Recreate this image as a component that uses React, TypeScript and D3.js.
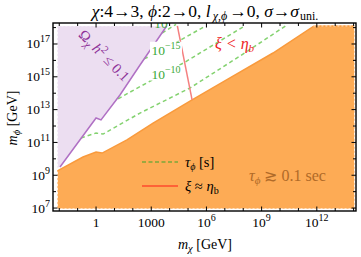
import * as d3 from "d3";

// all values are log10 exponents
const xDomainExp = [-2.34, 14.13];
const yDomainExp = [6.82, 18.28];
const regionXExp = [-2.1, 14.05];
const regionYExp = [6.95, 18.1];

const xTickExps = d3.range(-2, 15);
const xLabelExps = [0, 3, 6, 9, 12];
const xLabelText = ["1", "1000", "10", "10", "10"];
const xLabelSup = ["", "", "6", "9", "12"];
const yTickExps = d3.range(7, 19);
const yLabelExps = [7, 9, 11, 13, 15, 17];

// lower edge of tau_phi >~ 0.1 s region
const orangeX = [-2.1, -0.71, 0, 0.33, 1.68, 3.1, 5.22, 7.28, 9.62, 11.85, 14.05];
const orangeY = [9.27, 10.11, 10.41, 10.35, 11.15, 12.18, 13.59, 14.93, 16.45, 18.1, 18.1];

// relic density boundary
const omegaX = [-1.96, 0, 0.27, 1.3, 2.39, 3.84];
const omegaY = [9.5, 12.49, 12.37, 13.89, 15.72, 18.1];

// tau_phi contours
const tau1X = [-0.82, 0, 0.38, 2.39, 5.11, 7.83, 10.3];
const tau1Y = [11.27, 11.57, 11.51, 12.79, 14.32, 16.27, 18.1];
const tau2X = [1.2, 1.85, 4.84, 7.99, 8.1];
const tau2Y = [13.65, 14.07, 15.9, 18.04, 18.1];
const tau3X = [2.61, 3.75, 5.95];
const tau3Y = [16.09, 16.7, 18.1];
const tau4X = [3.59, 4.35];
const tau4Y = [17.67, 18.2];

// xi ~ eta_b
const xiX = [4.42, 5.22];
const xiY = [18.1, 13.59];

const W = 361;
const H = 257;
const left = 53, right = 356, top = 23, bottom = 211;
const serif = "'Liberation Serif', 'Times New Roman', serif";

const pts = (xs: number[], ys: number[]) => xs.map((x, i) => [x, ys[i]] as [number, number]);

export default function App() {
  const x = d3.scaleLog().domain(xDomainExp.map((e) => 10 ** e)).range([left, right]);
  const y = d3.scaleLog().domain(yDomainExp.map((e) => 10 ** e)).range([bottom, top]);
  const line = d3
    .line<[number, number]>()
    .x((d) => x(10 ** d[0]))
    .y((d) => y(10 ** d[1]));

  const rx0 = regionXExp[0], rx1 = regionXExp[1], ry0 = regionYExp[0], ry1 = regionYExp[1];
  const orangePoly = [...pts(orangeX, orangeY), [rx1, ry0], [rx0, ry0]] as [number, number][];
  const lavPoly = [[rx0, ry1], [rx0, 9.45], ...pts(omegaX, omegaY)] as [number, number][];

  const green = "#84d270";
  const dash = "4,3";

  const contourLabel = (ex: number, ey: number, sup: string) => {
    const cx = x(10 ** ex), cy = y(10 ** ey);
    return (
      <g key={sup}>
        <rect x={cx - 16} y={cy - 8} width={32} height={15} fill="white" />
        <text x={cx} y={cy + 5} textAnchor="middle" fontSize={13.5} fill="#3aa83a" fontFamily={serif}>
          10<tspan dy={-6} fontSize={10}>{sup}</tspan>
        </text>
      </g>
    );
  };

  return (
    <svg width={W} height={H} style={{ position: "absolute", left: 0, top: 0 }} fontFamily={serif}>
      <defs>
        <clipPath id="plot">
          <rect x={left} y={top} width={right - left} height={bottom - top} />
        </clipPath>
      </defs>
      <rect width={W} height={H} fill="white" />

      {/* title */}
      <text x={205} y={17} textAnchor="middle" fontSize={17.5}>
        <tspan fontStyle="italic">χ</tspan>:4→3, <tspan fontStyle="italic">ϕ</tspan>:2→0,{" "}
        <tspan fontStyle="italic">l</tspan>
        <tspan dx={2} dy={3} fontSize={12} fontStyle="italic">χ,ϕ</tspan>
        <tspan dx={2} dy={-3}>→0, </tspan>
        <tspan fontStyle="italic">σ</tspan>→<tspan fontStyle="italic">σ</tspan>
        <tspan dx={1} dy={3} fontSize={12}>uni.</tspan>
      </text>

      <g clipPath="url(#plot)">
        <path d={line(lavPoly) + "Z"} fill="#ecdef1" />
        <path d={line(orangePoly) + "Z"} fill="#fdab55" />
        <path d={line(pts(orangeX, orangeY)) ?? ""} fill="none" stroke="#f99a3c" strokeWidth={1.5} />
        <rect
          x={x(10 ** rx0)}
          y={y(10 ** ry1)}
          width={x(10 ** rx1) - x(10 ** rx0)}
          height={y(10 ** ry0) - y(10 ** ry1)}
          fill="none"
          stroke="white"
          strokeWidth={0.8}
          strokeDasharray="2,2"
        />
        {[pts(tau1X, tau1Y), pts(tau2X, tau2Y), pts(tau3X, tau3Y), pts(tau4X, tau4Y)].map((p, i) => (
          <path key={i} d={line(p) ?? ""} fill="none" stroke={green} strokeWidth={1.5} strokeDasharray={dash} />
        ))}
        <path d={line(pts(omegaX, omegaY)) ?? ""} fill="none" stroke="#b070c4" strokeWidth={1.5} />
        <path d={line(pts(xiX, xiY)) ?? ""} fill="none" stroke="#f48080" strokeWidth={1.5} />
        {contourLabel(3.8, 16.65, "−15")}
        {contourLabel(3.8, 15.2, "−10")}
        <text x={x(10 ** 3.95)} y={y(10 ** 18.0)} textAnchor="middle" fontSize={13.5} fill="#3aa83a">
          10<tspan dy={-6} fontSize={10}>−20</tspan>
        </text>
      </g>

      {/* region labels */}
      <text
        transform={`translate(${x(10 ** 0.25)},${y(10 ** 16.1)}) rotate(45.5)`}
        textAnchor="middle"
        fontSize={14.5}
        fill="#8e3299"
      >
        Ω<tspan dy={3} fontSize={11} fontStyle="italic">χ</tspan>
        <tspan dy={-3} fontStyle="italic"> h</tspan>
        <tspan dy={-6} fontSize={11}>2</tspan>
        <tspan dy={6}> ≤ 0.1</tspan>
      </text>
      <text x={215} y={49} fontSize={16} fill="#ee1c24" fontStyle="italic">
        ξ {"<"} η<tspan dy={3} fontSize={11}>b</tspan>
      </text>
      <text x={249} y={181} fontSize={16} fill="#b06a28">
        <tspan fontStyle="italic">τ</tspan>
        <tspan dy={3} fontSize={11} fontStyle="italic">ϕ</tspan>
        <tspan dy={-3}> ≳ 0.1 sec</tspan>
      </text>

      {/* legend */}
      <line x1={142} x2={178} y1={162} y2={162} stroke="#3aa52c" strokeWidth={1.2} strokeDasharray="4,2.5" />
      <text x={185} y={167} fontSize={14.5}>
        <tspan fontStyle="italic">τ</tspan>
        <tspan dy={3} fontSize={10} fontStyle="italic">ϕ</tspan>
        <tspan dy={-3}> [s]</tspan>
      </text>
      <line x1={142} x2={178} y1={186} y2={186} stroke="#ff1a1a" strokeWidth={1.2} />
      <text x={185} y={191} fontSize={14.5}>
        <tspan fontStyle="italic">ξ</tspan> ≈ <tspan fontStyle="italic">η</tspan>
        <tspan dy={3} fontSize={10}>b</tspan>
      </text>

      {/* frame and ticks */}
      <rect x={left} y={top} width={right - left} height={bottom - top} fill="none" stroke="black" strokeWidth={1.4} />
      {xTickExps.map((e) => {
        const px = x(10 ** e);
        const len = xLabelExps.includes(e) ? 4.5 : 3;
        return (
          <g key={"x" + e}>
            <line x1={px} x2={px} y1={bottom} y2={bottom - len} stroke="black" strokeWidth={1} />
            <line x1={px} x2={px} y1={top} y2={top + len} stroke="black" strokeWidth={1} />
          </g>
        );
      })}
      {yTickExps.map((e) => {
        const py = y(10 ** e);
        const len = yLabelExps.includes(e) ? 4.5 : 3;
        return (
          <g key={"y" + e}>
            <line x1={left} x2={left + len} y1={py} y2={py} stroke="black" strokeWidth={1} />
            <line x1={right} x2={right - len} y1={py} y2={py} stroke="black" strokeWidth={1} />
          </g>
        );
      })}
      {xLabelExps.map((e, i) => (
        <text key={"xl" + e} x={x(10 ** e)} y={227} textAnchor="middle" fontSize={13.5}>
          {xLabelText[i]}
          {xLabelSup[i] && (
            <tspan dy={-6} fontSize={10}>
              {xLabelSup[i]}
            </tspan>
          )}
        </text>
      ))}
      {yLabelExps.map((e) => (
        <text key={"yl" + e} x={50} y={y(10 ** e) + 4.5} textAnchor="end" fontSize={13.5}>
          10<tspan dy={-6} fontSize={10}>{e}</tspan>
        </text>
      ))}

      {/* axis titles */}
      <text x={205} y={249} textAnchor="middle" fontSize={14}>
        <tspan fontStyle="italic">m</tspan>
        <tspan dy={3} fontSize={10.5} fontStyle="italic">χ</tspan>
        <tspan dy={-3}> [GeV]</tspan>
      </text>
      <text transform={`translate(17,118) rotate(-90)`} textAnchor="middle" fontSize={14}>
        <tspan fontStyle="italic">m</tspan>
        <tspan dy={3} fontSize={10.5} fontStyle="italic">ϕ</tspan>
        <tspan dy={-3}> [GeV]</tspan>
      </text>
    </svg>
  );
}
